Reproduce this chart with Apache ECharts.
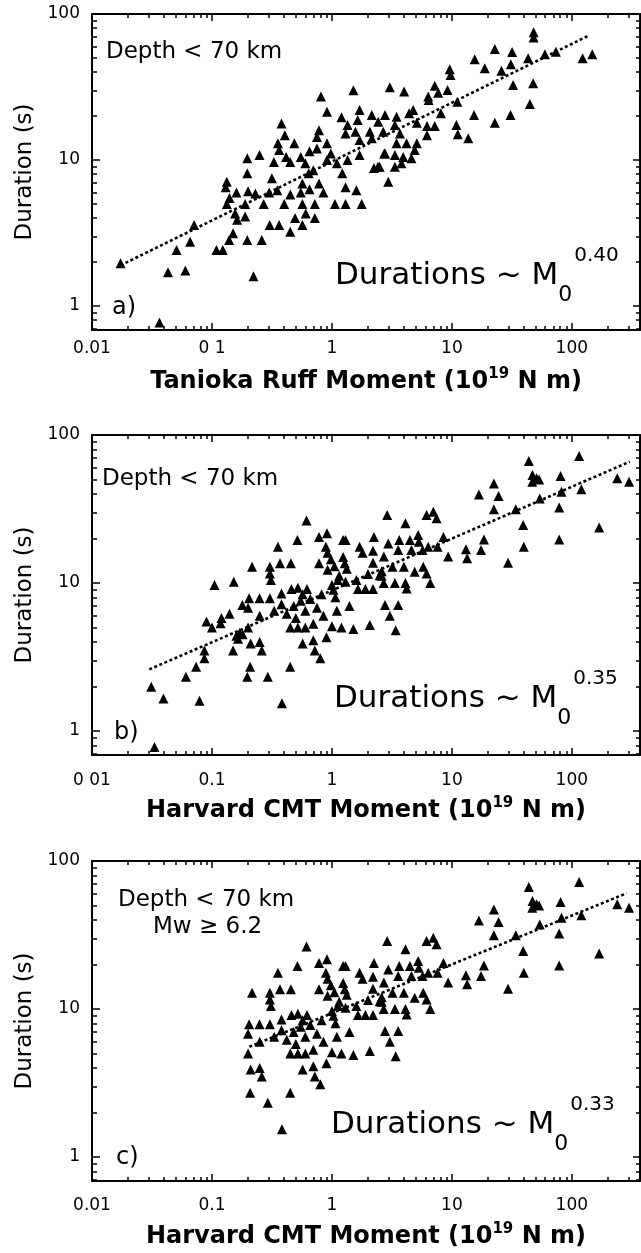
<!DOCTYPE html>
<html><head><meta charset="utf-8">
<script src="https://cdn.jsdelivr.net/npm/echarts@6/dist/echarts.min.js"></script>
<style>html,body{margin:0;padding:0;background:#fff}#c{width:641px;height:1253px}</style>
</head><body><div id="c"></div>
<script>
const FONT = 'DejaVu Sans';
const xMajor = [0.01, 0.1, 1, 10, 100];
const xMinor = [0.02,0.03,0.04,0.05,0.06,0.07,0.08,0.09,0.2,0.3,0.4,0.5,0.6,0.7,0.8,0.9,2,3,4,5,6,7,8,9,20,30,40,50,60,70,80,90,200,300];
const yMajor = [1, 10, 100];
const yMinor = [0.7,0.8,0.9,2,3,4,5,6,7,8,9,20,30,40,50,60,70,80,90];
const xLabelsA = ['0.01','0 1','1','10','100'];
const xLabelsB = ['0 01','0.1','1','10','100'];
const xLabelsC = ['0.01','0.1','1','10','100'];
const yLabels = ['1','10','100'];

// Panel a: Tanioka Ruff moment (1e19 N m), duration (s)
const durA = [
[48,75],[48,69],[22.8,57.5],[31.8,55],[15.5,49],[18.8,42.5],[9.6,41.8],[9.75,38.2],[25.9,40.9],[31,45.2],[43.2,49.8],[59.6,53],[73.6,55.2],[123,49.8],[148,53],[32.4,32.7],[47.6,33.5],[44.7,24.2],[30.8,20.3],[22.8,18],[15.3,20.3],[10.9,17.4],[11.2,15],[13.7,14.1],[3.04,31.5],[4.0,29.4],[7.2,32.2],[7.7,28.9],[9.2,30.2],[6.35,27.2],[6.4,25.8],[11.1,25.1],[8.1,20.9],[6.2,17.1],[6.2,14.8],[7.2,17.1],[5.1,18],[4.76,22],[4.4,20.9],[3.46,19.8],[2.77,20.3],[3.35,17.4],[2.68,15.6],[3.69,15.2],[3.46,13],[4.19,13],[5.1,13],[4.9,11.7],[2.77,11.1],[3.35,10.8],[3.93,10.5],[4.6,10.3],[3.8,9.5],[3.35,9.0],[2.5,9],[2.95,7.1],
[0.81,27.2],[1.51,30.1],[0.91,21.4],[1.2,19.6],[1.7,22],[2.15,20.3],[0.78,16],[0.75,14.4],[0.91,13],[0.98,11.1],[0.91,10],[1.1,9.5],[1.3,15.2],[1.35,17.4],[1.64,18.8],[1.57,15.6],[1.7,13.7],[2.07,15.6],[2.15,14.1],[2.43,18.3],[2.24,8.8],[2.42,9],[2.73,11.1],[1.7,10.8],[1.35,10],[1.22,8.1],[0.38,17.8],[0.405,14.8],[0.486,13],[0.355,13],[0.363,11.7],[0.415,10.5],[0.449,9.7],[0.328,9.7],[0.197,10.3],[0.249,10.8],[0.133,7.1],[0.197,8.1],[0.316,7.5],[0.64,8.1],[0.567,6.9],[0.78,6.9],[0.6,9.5],[0.7,8.5],[0.55,10.5],[0.65,11.5],[0.75,12],
[0.16,6.0],[0.2,6.1],[0.23,5.9],[0.3,6.0],[0.35,6.2],[0.45,5.8],[0.55,6.0],[0.65,6.3],[0.85,6.0],[1.3,6.5],[1.6,6.2],[0.14,5.5],[0.13,6.5],
[0.133,5.0],[0.189,5.0],[0.27,5.0],[0.4,5.0],[0.567,5.0],[0.72,5.0],[1.06,5.0],[1.3,5.0],[1.77,5.0],
[0.156,4.3],[0.162,3.9],[0.189,4.1],[0.493,4.0],[0.605,4.3],[0.72,4.0],
[0.071,3.59],[0.303,3.59],[0.363,3.59],[0.567,3.59],[0.15,3.15],[0.449,3.23],
[0.0658,2.76],[0.139,2.83],[0.197,2.83],[0.26,2.83],[0.0507,2.42],[0.109,2.42],[0.123,2.42],
[0.0173,1.96],[0.043,1.7],[0.06,1.75],[0.222,1.6],[0.0365,0.77]
];
const trendA = [[0.0173,1.9],[136,70.7]];

// Panel b: Harvard CMT moment, duration (s)
const durB = [
[115,72],[43.8,66.7],[47,53.7],[50.8,51],[46.8,48.3],[53.4,50],[80.5,52.8],[82,41.4],[120,43],[239,51],[300,48.3],[22.4,47.1],[16.8,39.7],[24.5,38.7],[22.4,31.5],[34.1,31.5],[54,37.3],[78.4,32.4],[39.3,24.7],[39.8,17.6],[78.4,19.7],[169,23.7],[29.4,13.7],[18.5,19.7],[17.5,16.7],[13.1,16.9],[13.4,14.7],[9.3,15.1],[8.5,20.5],[7.45,27.4],[6.15,28.8],[7.0,30.3],[2.89,28.8],[4.1,25.3],[2.95,18.5],[3.64,19.5],[4.47,19.5],[5.24,21.1],[5.3,19],[6.35,17.6],[7.6,17.6],[3.57,16.7],[4.6,16.7],[5.7,16.7],[2.71,15.1],[3.2,12.9],[3.98,12.9],[4.9,11.9],[5.77,12.9],[6.15,11.6],[6.6,10],[2.6,11.2],[2.7,10],[3.35,10],[4.1,10],[4.2,9.2],[2.77,7.1],[3.57,7.1],[3.04,6.0],[3.4,4.8],
[0.614,26.4],[0.516,19.5],[0.355,17.6],[0.369,13.6],[0.455,13.6],[0.216,12.9],[0.304,12.9],[0.304,11.6],[0.31,10.5],[0.105,9.7],[0.152,10.2],[0.179,7.1],[0.204,7.9],[0.249,7.9],[0.304,7.9],[0.38,8.5],[0.46,9.1],[0.52,9.3],[0.62,9.1],[0.55,7.6],[0.66,7.8],[0.57,8.4],[0.78,13.6],[0.78,20.5],[0.91,21.7],[0.89,17.6],[0.92,16],[0.98,14.5],[1.05,13],[0.92,12.3],[1.24,19.5],[1.3,19.5],[1.24,15],[1.28,13.6],[1.33,12.5],[1.7,17.6],[1.8,16],[2.24,20.5],[2.2,16.5],[2.2,13.7],[2.0,11.5],[2.5,11.3],[1.15,11.2],[1.12,10.5],[1.0,9.7],[1.03,9.0],[0.82,8.4],[1.07,8.0],[1.3,10.2],[1.6,10.5],[1.65,9.1],[1.9,9.1],[2.2,9.1],[2.6,12.0],
[0.14,6.2],[0.12,5.8],[0.25,6.0],[0.33,6.5],[0.42,6.2],[0.5,5.8],[0.6,6.5],[0.75,6.8],[0.85,6.0],[1.1,6.5],[1.4,7.0],[0.09,5.5],[0.2,6.8],[0.38,7.2],[0.48,7.0],
[0.118,5.35],[0.2,5.0],[0.45,5.0],[0.52,5.0],[0.6,5.0],[0.7,5.3],[1.0,5.1],[1.2,5.0],[1.51,4.9],[2.07,5.2],[0.1,5.0],
[0.16,4.4],[0.17,4.6],[0.18,4.5],[0.165,4.2],[0.21,3.9],[0.25,4.0],[0.26,3.5],[0.57,3.9],[0.7,4.1],[0.72,3.5],[0.8,3.1],[0.9,4.3],
[0.0865,3.1],[0.0865,3.5],[0.15,3.5],[0.0738,2.72],[0.208,2.72],[0.449,2.72],[0.0607,2.33],[0.197,2.33],[0.292,2.33],
[0.0312,1.99],[0.0394,1.66],[0.0787,1.6],[0.383,1.54],[0.0332,0.78]
];
const trendB = [[0.03,2.61],[304,66]];

// Panel c: Harvard CMT moment, Mw >= 6.2 only
const durC = [
[115,72],[43.8,66.7],[47,53.7],[50.8,51],[46.8,48.3],[53.4,50],[80.5,52.8],[82,41.4],[120,43],[239,51],[300,48.3],[22.4,47.1],[16.8,39.7],[24.5,38.7],[22.4,31.5],[34.1,31.5],[54,37.3],[78.4,32.4],[39.3,24.7],[39.8,17.6],[78.4,19.7],[169,23.7],[29.4,13.7],[18.5,19.7],[17.5,16.7],[13.1,16.9],[13.4,14.7],[9.3,15.1],[8.5,20.5],[7.45,27.4],[6.15,28.8],[7.0,30.3],[2.89,28.8],[4.1,25.3],[2.95,18.5],[3.64,19.5],[4.47,19.5],[5.24,21.1],[5.3,19],[6.35,17.6],[7.6,17.6],[3.57,16.7],[4.6,16.7],[5.7,16.7],[2.71,15.1],[3.2,12.9],[3.98,12.9],[4.9,11.9],[5.77,12.9],[6.15,11.6],[6.6,10],[2.6,11.2],[2.7,10],[3.35,10],[4.1,10],[4.2,9.2],[2.77,7.1],[3.57,7.1],[3.04,6.0],[3.4,4.8],
[0.614,26.4],[0.516,19.5],[0.355,17.6],[0.369,13.6],[0.455,13.6],[0.216,12.9],[0.304,12.9],[0.304,11.6],[0.31,10.5],[0.204,7.9],[0.249,7.9],[0.304,7.9],[0.38,8.5],[0.46,9.1],[0.52,9.3],[0.62,9.1],[0.55,7.6],[0.66,7.8],[0.57,8.4],[0.78,13.6],[0.78,20.5],[0.91,21.7],[0.89,17.6],[0.92,16],[0.98,14.5],[1.05,13],[0.92,12.3],[1.24,19.5],[1.3,19.5],[1.24,15],[1.28,13.6],[1.33,12.5],[1.7,17.6],[1.8,16],[2.24,20.5],[2.2,16.5],[2.2,13.7],[2.0,11.5],[2.5,11.3],[1.15,11.2],[1.12,10.5],[1.0,9.7],[1.03,9.0],[0.82,8.4],[1.07,8.0],[1.3,10.2],[1.6,10.5],[1.65,9.1],[1.9,9.1],[2.2,9.1],[2.6,12.0],
[0.25,6.0],[0.33,6.5],[0.42,6.2],[0.5,5.8],[0.6,6.5],[0.75,6.8],[0.85,6.0],[1.1,6.5],[1.4,7.0],[0.2,6.8],[0.38,7.2],[0.48,7.0],
[0.2,5.0],[0.45,5.0],[0.52,5.0],[0.6,5.0],[0.7,5.3],[1.0,5.1],[1.2,5.0],[1.51,4.9],[2.07,5.2],
[0.21,3.9],[0.25,4.0],[0.26,3.5],[0.57,3.9],[0.7,4.1],[0.72,3.5],[0.8,3.1],[0.9,4.3],
[0.208,2.72],[0.449,2.72],[0.292,2.33],[0.383,1.54]
];
const trendC = [[0.205,5.56],[286,60.5]];

const X_MIN = 0.01, X_MAX = 370;

const panels = [
  {top:14, height:316, yMin:0.685, xLabels:xLabelsA, labelMargin:10, titleGap:37,
   xTitle:'Tanioka Ruff Moment (10', data:durA, trend:trendA},
  {top:435, height:320, yMin:0.689, xLabels:xLabelsB, labelMargin:17, titleGap:41,
   xTitle:'Harvard CMT Moment (10', data:durB, trend:trendB},
  {top:861, height:320, yMin:0.689, xLabels:xLabelsC, labelMargin:16, titleGap:41,
   xTitle:'Harvard CMT Moment (10', data:durC, trend:trendC}
];

function nearestIdx(arr, v){
  let best=0, bd=1e9;
  arr.forEach((a,i)=>{const d=Math.abs(Math.log10(a)-Math.log10(v)); if(d<bd){bd=d;best=i;}});
  return best;
}
const black = '#000';
const grids=[], xAxes=[], yAxes=[], series=[];
panels.forEach((p,i)=>{
  grids.push({left:92, top:p.top, width:548, height:p.height, containLabel:false, outerBoundsMode:'none'});
  const cx = {gridIndex:i, type:'log', logBase:10, min:X_MIN, max:X_MAX, splitLine:{show:false}, minorTick:{show:false}, minorSplitLine:{show:false}};
  const cy = {gridIndex:i, type:'log', logBase:10, min:p.yMin, max:100, splitLine:{show:false}, minorTick:{show:false}, minorSplitLine:{show:false}};
  const line = {show:true, onZero:false, lineStyle:{color:black, width:2}};
  const noLine = {show:false};
  const tick = (vals, len) => ({show:true, inside:true, length:len, customValues:vals, lineStyle:{color:black, width:1.5}});
  const noLab = {show:false};
  xAxes.push(Object.assign({}, cx, {position:'bottom', axisLine:line, axisTick:tick(xMajor,7),
    axisLabel:{show:true, customValues:xMajor, formatter:(v)=>p.xLabels[nearestIdx(xMajor,v)], margin:p.labelMargin, fontSize:17, fontFamily:FONT, color:black},
    name:'{b|'+p.xTitle+'}{s|19}{b| N m)}', nameLocation:'middle', nameGap:p.titleGap,
    nameTextStyle:{color:black, rich:{
      b:{fontFamily:FONT, fontWeight:'bold', fontSize:24, lineHeight:30, color:black},
      s:{fontFamily:FONT, fontWeight:'bold', fontSize:15, lineHeight:14, verticalAlign:'top', color:black}
    }}}));
  xAxes.push(Object.assign({}, cx, {position:'bottom', axisLine:noLine, axisTick:tick(xMinor,4), axisLabel:noLab}));
  xAxes.push(Object.assign({}, cx, {position:'top', axisLine:line, axisTick:tick(xMajor,7), axisLabel:noLab}));
  xAxes.push(Object.assign({}, cx, {position:'top', axisLine:noLine, axisTick:tick(xMinor,4), axisLabel:noLab}));
  yAxes.push(Object.assign({}, cy, {position:'left', axisLine:line, axisTick:tick(yMajor,8),
    axisLabel:{show:true, customValues:yMajor, formatter:(v)=>yLabels[nearestIdx(yMajor,v)], margin:12, fontSize:17, fontFamily:FONT, color:black},
    name:'Duration (s)', nameLocation:'middle', nameGap:50,
    nameTextStyle:{fontFamily:FONT, fontSize:23, color:black}}));
  yAxes.push(Object.assign({}, cy, {position:'left', axisLine:noLine, axisTick:tick(yMinor,5), axisLabel:noLab}));
  yAxes.push(Object.assign({}, cy, {position:'right', axisLine:line, axisTick:tick(yMajor,7), axisLabel:noLab}));
  yAxes.push(Object.assign({}, cy, {position:'right', axisLine:noLine, axisTick:tick(yMinor,4), axisLabel:noLab}));
  series.push({type:'scatter', xAxisIndex:4*i, yAxisIndex:4*i, data:p.data, symbol:'triangle', symbolSize:10,
    itemStyle:{color:black, opacity:1}, silent:true, z:3});
  series.push({type:'line', xAxisIndex:4*i, yAxisIndex:4*i, data:p.trend, symbol:'none', showSymbol:false, silent:true, z:4,
    lineStyle:{color:black, width:2.6, type:[3,2.5]}});
});

function txt(x, y, text, size){
  return {type:'text', x:x, y:y, silent:true, style:{text:text, fill:black, fontFamily:FONT, fontSize:size, align:'left', verticalAlign:'middle'}};
}
function durText(x, y, exp){
  return {type:'text', x:x, y:y, silent:true, style:{
    text:'{m|Durations ~ M}{sub|0}{sup|'+exp+'}', align:'left', verticalAlign:'middle', fill:black,
    rich:{
      m:{fontFamily:FONT, fontSize:31, lineHeight:60, fill:black},
      sub:{fontFamily:FONT, fontSize:22, lineHeight:26, verticalAlign:'bottom', fill:black},
      sup:{fontFamily:FONT, fontSize:20, lineHeight:36, verticalAlign:'top', fill:black, padding:[0,0,0,2]}
    }}};
}
const graphics = [
  txt(106, 52, 'Depth < 70 km', 23),
  txt(112, 308, 'a)', 24),
  durText(335, 276, '0.40'),
  txt(102, 479, 'Depth < 70 km', 23),
  txt(114, 733, 'b)', 24),
  durText(334, 699, '0.35'),
  txt(118, 900, 'Depth < 70 km', 23),
  txt(153, 927, 'Mw \u2265 6.2', 23),
  txt(116, 1158, 'c)', 24),
  durText(331, 1125, '0.33')
];

const chart = echarts.init(document.getElementById('c'), null, {renderer:'canvas'});
chart.setOption({
  animation:false, backgroundColor:'#fff',
  grid:grids, xAxis:xAxes, yAxis:yAxes, series:series, graphic:graphics
});
</script></body></html>
